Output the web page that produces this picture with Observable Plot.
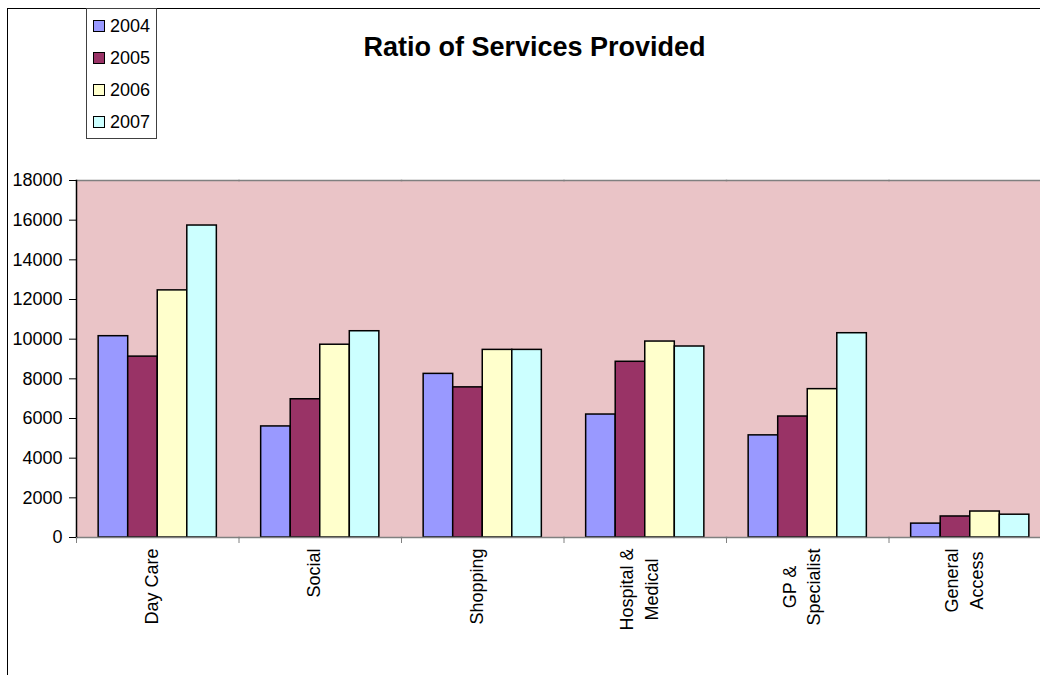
<!DOCTYPE html>
<html>
<head>
<meta charset="utf-8">
<script src="https://cdn.jsdelivr.net/npm/d3@7"></script>
<script src="https://cdn.jsdelivr.net/npm/@observablehq/plot@0.6"></script>
<style>
  html, body { margin: 0; padding: 0; background: #fff; overflow: hidden; }
  #wrap { position: relative; width: 1040px; height: 675px; overflow: hidden;
          font-family: "Liberation Sans", Arial, sans-serif; color: #000; }
  #chart { position: absolute; left: 0; top: 0; }
  #border { position: absolute; left: 7px; top: 8px; width: 1100px; height: 800px;
            border: 1px solid #000; box-sizing: border-box; pointer-events: none; }
  #title { position: absolute; left: 0; width: 1069px; top: 34px; text-align: center;
           font-weight: bold; font-size: 27px; line-height: 27px; }
  #legend { position: absolute; left: 86px; top: 8px; width: 71px; height: 131px;
            box-sizing: border-box; border: 1px solid #404040; background: #fff; padding-top: 1px; }
  .item { height: 32px; display: flex; align-items: center; font-size: 18px; }
  .sw { width: 12px; height: 12px; box-sizing: border-box; border: 1px solid #000;
        margin-left: 6px; margin-right: 5px; }
</style>
</head>
<body>
<div id="wrap">
  <div id="chart"></div>
  <div id="border"></div>
  <div id="title"></div>
  <div id="legend"></div>
</div>
<script>
// ---- data ----
const titleText = "Ratio of Services Provided";
const categories = ["Day Care", "Social", "Shopping", "Hospital & Medical", "GP & Specialist", "General Access"];
const categoryLabels = ["Day Care", "Social", "Shopping", "Hospital &\nMedical", "GP &\nSpecialist", "General\nAccess"];
const years = ["2004", "2005", "2006", "2007"];
const values2004 = [10150, 5600, 8250, 6200, 5150, 700];
const values2005 = [9120, 6970, 7570, 8860, 6100, 1060];
const values2006 = [12460, 9720, 9460, 9880, 7480, 1310];
const values2007 = [15730, 10400, 9460, 9630, 10300, 1150];
const yearColors = ["#9999FF", "#993366", "#FFFFCC", "#CCFFFF"];
const yTicks = [0, 2000, 4000, 6000, 8000, 10000, 12000, 14000, 16000, 18000];

// ---- layout / style ----
const W = 1040, H = 675;
const mLeft = 76, mRight = -11, mTop = 180, mBottom = 138;
const plotBg = "#EAC4C7";
const font = "'Liberation Sans', Arial, sans-serif";
const fontPx = 18;
const lineGap = 24.5;

const seriesValues = [values2004, values2005, values2006, values2007];
const rows = [];
categories.forEach((c, i) => years.forEach((y, j) => rows.push({category: c, year: y, value: seriesValues[j][i]})));

const step = (W - mLeft - mRight) / categories.length;

// measure label widths to top-align the rotated labels
const ctx = document.createElement("canvas").getContext("2d");
ctx.font = `${fontPx}px ${font}`;
const labelMarks = [];
categories.forEach((c, i) => {
  const lines = categoryLabels[i].split("\n");
  const wmax = d3.max(lines, l => ctx.measureText(l).width);
  lines.forEach((l, k) => {
    labelMarks.push(Plot.text([c], {
      fx: d => d,
      text: () => l,
      frameAnchor: "bottom",
      rotate: -90,
      textAnchor: "middle",
      fontSize: fontPx,
      fill: "#000",
      dy: 11 + wmax / 2,
      dx: (k - (lines.length - 1) / 2) * lineGap
    }));
  });
});

const chart = Plot.plot({
  width: W,
  height: H,
  marginLeft: mLeft,
  marginRight: mRight,
  marginTop: mTop,
  marginBottom: mBottom,
  style: {fontFamily: font, fontSize: fontPx + "px", background: "transparent", color: "#000"},
  fx: {domain: categories, padding: 0, round: false, axis: null},
  x: {domain: years, paddingInner: 0, paddingOuter: 0.75, round: false, axis: null},
  y: {domain: [0, 18000], axis: null},
  color: {domain: years, range: yearColors},
  marks: [
    Plot.frame({fill: plotBg, stroke: plotBg, strokeWidth: 1}),
    Plot.frame({anchor: "top", stroke: "#808080", strokeWidth: 1.5}),
    Plot.barY(rows, {fx: "category", x: "year", y: "value", fill: "year", stroke: "#000", strokeWidth: 1.5}),
    Plot.frame({anchor: "bottom", stroke: "#808080", strokeWidth: 1.5}),
    Plot.frame({anchor: "left", stroke: "#000", strokeWidth: 1.5, fx: [categories[0]]}),
    Plot.axisY({ticks: yTicks, tickSize: 7, tickPadding: 7, tickFormat: d3.format("d"), label: null, fontSize: fontPx, stroke: "#000", fill: "#000"}),
    Plot.axisFx({anchor: "bottom", tickSize: 6, dx: -step / 2, stroke: "#808080", fill: "none", label: null}),
    ...labelMarks
  ]
});
document.getElementById("chart").appendChild(chart);

document.getElementById("title").textContent = titleText;
const legend = document.getElementById("legend");
years.forEach((y, j) => {
  const item = document.createElement("div");
  item.className = "item";
  const sw = document.createElement("div");
  sw.className = "sw";
  sw.style.background = yearColors[j];
  const t = document.createElement("span");
  t.textContent = y;
  item.appendChild(sw);
  item.appendChild(t);
  legend.appendChild(item);
});
</script>
</body>
</html>
